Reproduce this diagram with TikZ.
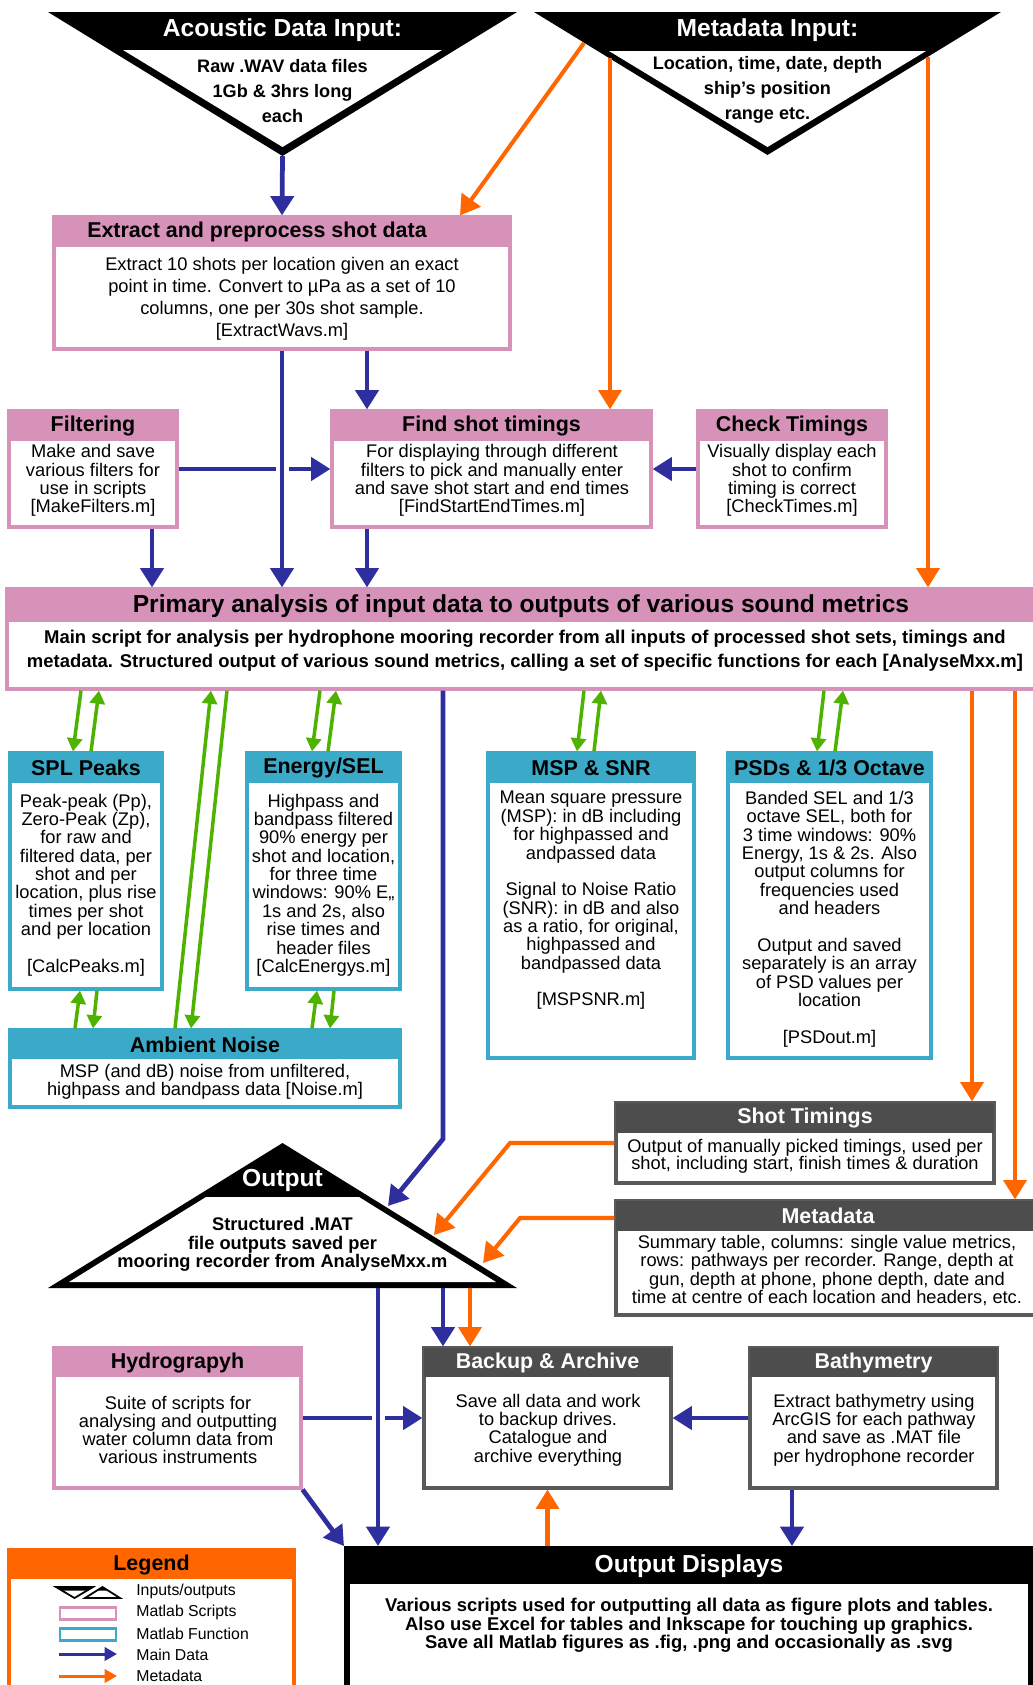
\documentclass[tikz,border=0pt]{standalone}
\usepackage{fontspec}
\setmainfont{Liberation Sans}
\usetikzlibrary{fit}
\usetikzlibrary{arrows.meta}
\definecolor{scriptpink}{RGB}{214,146,184}
\definecolor{funccyan}{RGB}{58,170,200}
\definecolor{headgrey}{RGB}{77,77,77}
\definecolor{boxgrey}{RGB}{90,90,90}
\definecolor{mainblue}{RGB}{46,46,158}
\definecolor{metaorange}{RGB}{255,102,0}
\definecolor{linkgreen}{RGB}{77,179,0}
\newcommand{\boxtitle}{\fontsize{12.2}{14}\selectfont\bfseries}
\newcommand{\tritle}{\fontsize{14}{16}\selectfont\bfseries}
\newcommand{\boxbody}[1]{\fontsize{10.4}{#1}\selectfont\lineskiplimit=-8pt}
\tikzstyle{scriptbox}=[draw=scriptpink, line width=1.8pt, fill=white, inner sep=0]
\tikzstyle{scripthead}=[fill=scriptpink, inner sep=0]
\tikzstyle{funcbox}=[draw=funccyan, line width=1.8pt, fill=white, inner sep=0]
\tikzstyle{funchead}=[fill=funccyan, inner sep=0]
\tikzstyle{outbox}=[draw=boxgrey, line width=1.8pt, fill=white, inner sep=0]
\tikzstyle{outhead}=[fill=headgrey, inner sep=0]
\tikzstyle{dispbox}=[draw=black, line width=3.4pt, fill=white, inner sep=0]
\tikzstyle{disphead}=[fill=black, inner sep=0]
\tikzstyle{headtext}=[inner sep=0, font=\boxtitle]
\tikzstyle{bodytext}=[align=center, inner sep=0, font=\boxbody{10.45}]
\tikzstyle{mainflow}=[draw=mainblue, line width=2.7pt, -{Triangle[length=11pt, width=13pt]}]
\tikzstyle{metaflow}=[draw=metaorange, line width=2.3pt, -{Triangle[length=11pt, width=13pt]}]
\tikzstyle{linkflow}=[draw=linkgreen, line width=2pt, -{Triangle[length=7.5pt, width=8.5pt]}]
\begin{document}
\begin{tikzpicture}[x=0.02cm, y=-0.02cm]
\useasboundingbox (0,0) rectangle (1033,1685);
\clip (0,0) rectangle (1033,1685);

% input triangles
\fill (48,12) -- (517,12) -- (282.5,156) -- cycle;
\fill[white] (123,50) -- (442,50) -- (282.5,147) -- cycle;
\node[text=white, font=\tritle] (acoustic-title) at (282.5,30) {Acoustic Data Input:};
\node[bodytext, font=\fontsize{10.3}{14.2}\selectfont\bfseries] (acoustic-text) at (282.5,91) {Raw .WAV data files\\1Gb \& 3hrs long\\each};
\coordinate (acoustic) at (282.5,156);

\fill (534,12) -- (1001,12) -- (767.5,155) -- cycle;
\fill[white] (609,51) -- (926,51) -- (767.5,147) -- cycle;
\node[text=white, font=\tritle] (metain-title) at (767.5,30) {Metadata Input:};
\node[bodytext, font=\fontsize{10.3}{14.2}\selectfont\bfseries] (metain-text) at (767.5,90) {Location, time, date, depth\\ship's position\\range etc.};
\coordinate (meta-a) at (584,43);
\coordinate (meta-b) at (610,58);
\coordinate (meta-c) at (928,57);

% scripts
\node[scriptbox, fit={(54,217) (510,349)}] (extract) {};
\node[scripthead, fit={(54,217) (510,247)}] (extract-head) {};
\node[headtext] (extract-title) at (257,232) {Extract and preprocess shot data};
\node[bodytext, font=\boxbody{12.5}] (extract-text) at (282,299) {Extract 10 shots per location given an exact\\point in time. Convert to µPa as a set of 10\\columns, one per 30s shot sample.\\{}[ExtractWavs.m]};

\node[scriptbox, fit={(9,411) (177,527)}] (filtering) {};
\node[scripthead, fit={(9,411) (177,441)}] (filtering-head) {};
\node[headtext] (filtering-title) at (filtering-head) {Filtering};
\node[bodytext] (filtering-text) at (93,480.5) {Make and save\\various filters for\\use in scripts\\{}[MakeFilters.m]};

\node[scriptbox, fit={(332,411) (651,527)}] (find) {};
\node[scripthead, fit={(332,411) (651,441)}] (find-head) {};
\node[headtext] (find-title) at (find-head) {Find shot timings};
\node[bodytext] (find-text) at (492,480.5) {For displaying through different\\filters to pick and manually enter\\and save shot start and end times\\{}[FindStartEndTimes.m]};

\node[scriptbox, fit={(698,411) (886,527)}] (check) {};
\node[scripthead, fit={(698,411) (886,441)}] (check-head) {};
\node[headtext] (check-title) at (check-head) {Check Timings};
\node[bodytext] (check-text) at (792,480.5) {Visually display each\\shot to confirm\\timing is correct\\{}[CheckTimes.m]};

\node[scriptbox, fit={(7,589) (1043,689)}] (primary) {};
\node[scripthead, fit={(7,589) (1043,622)}] (primary-head) {};
\node[headtext, font=\tritle] (primary-title) at (521,606) {Primary analysis of input data to outputs of various sound metrics};
\node[bodytext, font=\fontsize{10.5}{13.6}\selectfont\bfseries] (primary-text) at (525,651) {Main script for analysis per hydrophone mooring recorder from all inputs of processed shot sets, timings and\\metadata. Structured output of various sound metrics, calling a set of specific functions for each [AnalyseMxx.m]};

% functions
\node[funcbox, fit={(10,753) (162,989)}] (spl) {};
\node[funchead, fit={(10,753) (162,783)}] (spl-head) {};
\node[headtext] (spl-title) at (spl-head) {SPL Peaks};
\node[bodytext] (spl-text) at (86,885) {Peak-peak (Pp),\\Zero-Peak (Zp),\\for raw and\\filtered data, per\\shot and per\\location, plus rise\\times per shot\\and per location\\[10.45pt]{}[CalcPeaks.m]};

\node[funcbox, fit={(247,753) (400,989)}] (energy) {};
\node[funchead, fit={(247,753) (400,783)}] (energy-head) {};
\node[headtext] (energy-title) at (energy-head) {Energy/SEL};
\node[bodytext] (energy-text) at (323.5,885) {Highpass and\\bandpass filtered\\90\% energy per\\shot and location,\\for three time\\windows: 90\% E,,\\1s and 2s, also\\rise times and\\header files\\{}[CalcEnergys.m]};

\node[funcbox, fit={(488,753) (694,1058)}] (msp) {};
\node[funchead, fit={(488,753) (694,783)}] (msp-head) {};
\node[headtext] (msp-title) at (msp-head) {MSP \& SNR};
\node[bodytext] (msp-text) at (591,900.5) {Mean square pressure\\(MSP): in dB including\\for highpassed and\\andpassed data\\[10.45pt]Signal to Noise Ratio\\(SNR): in dB and also\\as a ratio, for original,\\highpassed and\\bandpassed data\\[10.45pt]{}[MSPSNR.m]};

\node[funcbox, fit={(728,753) (931,1058)}] (psd) {};
\node[funchead, fit={(728,753) (931,783)}] (psd-head) {};
\node[headtext] (psd-title) at (psd-head) {PSDs \& 1/3 Octave};
\node[bodytext] (psd-text) at (829.5,919) {Banded SEL and 1/3\\octave SEL, both for\\3 time windows: 90\%\\Energy, 1s \& 2s. Also\\output columns for\\frequencies used\\and headers\\[10.45pt]Output and saved\\separately is an array\\of PSD values per\\location\\[10.45pt]{}[PSDout.m]};

\node[funcbox, fit={(10,1030) (400,1107)}] (ambient) {};
\node[funchead, fit={(10,1030) (400,1059)}] (ambient-head) {};
\node[headtext] (ambient-title) at (ambient-head) {Ambient Noise};
\node[bodytext] (ambient-text) at (205,1081.5) {MSP (and dB) noise from unfiltered,\\highpass and bandpass data [Noise.m]};

% output triangle
\fill (282.5,1143) -- (517,1288) -- (48,1288) -- cycle;
\fill[white] (206,1197) -- (359,1197) -- (496,1282) -- (69,1282) -- cycle;
\node[text=white, font=\tritle] (output-title) at (282.5,1180) {Output};
\node[bodytext, font=\fontsize{10.4}{10.5}\selectfont\bfseries] (output-text) at (282.5,1244.5) {Structured .MAT\\file outputs saved per\\mooring recorder from AnalyseMxx.m};
\coordinate (output) at (282.5,1288);
\coordinate (out-blue) at (388,1206);
\coordinate (out-shot) at (434,1235);
\coordinate (out-meta) at (483,1263);

% outputs
\node[outbox, fit={(616,1103) (994,1183)}] (shots) {};
\node[outhead, fit={(616,1103) (994,1133)}] (shots-head) {};
\node[headtext, text=white] (shots-title) at (shots-head) {Shot Timings};
\node[bodytext, font=\boxbody{9.8}] (shots-text) at (805,1156.5) {Output of manually picked timings, used per\\shot, including start, finish times \& duration};

\node[outbox, fit={(616,1201) (1040,1315)}] (metadata) {};
\node[outhead, fit={(616,1201) (1040,1231)}] (metadata-head) {};
\node[headtext, text=white] (metadata-title) at (metadata-head) {Metadata};
\node[bodytext, font=\boxbody{10.4}] (metadata-text) at (827,1270.5) {Summary table, columns: single value metrics,\\rows: pathways per recorder. Range, depth at\\gun, depth at phone, phone depth, date and\\time at centre of each location and headers, etc.};

\node[scriptbox, fit={(54,1348) (301,1488)}] (hydro) {};
\node[scripthead, fit={(54,1348) (301,1377)}] (hydro-head) {};
\node[headtext] (hydro-title) at (hydro-head) {Hydrograpyh};
\node[bodytext, font=\boxbody{10.4}] (hydro-text) at (178,1430) {Suite of scripts for\\analysing and outputting\\water column data from\\various instruments};

\node[outbox, fit={(424,1348) (671,1488)}] (backup) {};
\node[outhead, fit={(424,1348) (671,1377)}] (backup-head) {};
\node[headtext, text=white] (backup-title) at (backup-head) {Backup \& Archive};
\node[bodytext, font=\boxbody{10.4}] (backup-text) at (548,1430) {Save all data and work\\to backup drives.\\Catalogue and\\archive everything};

\node[outbox, fit={(750,1348) (997,1488)}] (bathy) {};
\node[outhead, fit={(750,1348) (997,1377)}] (bathy-head) {};
\node[headtext, text=white] (bathy-title) at (bathy-head) {Bathymetry};
\node[bodytext, font=\boxbody{10.4}] (bathy-text) at (874,1430) {Extract bathymetry using\\ArcGIS for each pathway\\and save as .MAT file\\per hydrophone recorder};

\node[dispbox, fit={(347,1549) (1031,1710)}] (display) {};
\node[disphead, fit={(347,1549) (1031,1584)}] (display-head) {};
\node[headtext, text=white, font=\tritle] (display-title) at (display-head) {Output Displays};
\node[bodytext, font=\fontsize{10.5}{10.5}\selectfont\bfseries] (display-text) at (689,1625.5) {Various scripts used for outputting all data as figure plots and tables.\\Also use Excel for tables and Inkscape for touching up graphics.\\Save all Matlab figures as .fig, .png and occasionally as .svg};

% main data
\draw[mainflow] (acoustic) -- (extract.north);
\draw[mainflow] (extract.south) -- (extract.south |- primary.north);
\draw[mainflow] (367,0 |- extract.south) -- (367,0 |- find.north);
\draw[mainflow] (filtering.east) -- (276,0 |- filtering.east) (289,0 |- filtering.east) -- (find.west);
\draw[mainflow] (152,0 |- filtering.south) -- (152,0 |- primary.north);
\draw[mainflow] (367,0 |- find.south) -- (367,0 |- primary.north);
\draw[mainflow] (check.west) -- (find.east);
\draw[mainflow] (443,0 |- primary.south) -- (443,1139) -- (out-blue);
\draw[mainflow] (378,0 |- output) -- (378,0 |- display.north);
\draw[mainflow] (443,0 |- output) -- (443,0 |- backup.north);
\draw[mainflow] (hydro.east) -- (372,0 |- hydro.east) (385,0 |- hydro.east) -- (backup.west);
\draw[mainflow] (hydro.south east) -- (display.north west);
\draw[mainflow] (bathy.west) -- (backup.east);
\draw[mainflow] (792,0 |- bathy.south) -- (792,0 |- display.north);

% metadata
\draw[metaflow] (meta-a) -- (460,0 |- extract.north);
\draw[metaflow] (meta-b) -- (meta-b |- find.north);
\draw[metaflow] (meta-c) -- (meta-c |- primary.north);
\draw[metaflow] (972,0 |- primary.south) -- (972,0 |- shots.north);
\draw[metaflow] (1015,0 |- primary.south) -- (1015,0 |- metadata.north);
\draw[metaflow] (shots.west) -- (510,0 |- shots.west) -- (out-shot);
\draw[metaflow] (metadata.west |- 0,1218) -- (520,1218) -- (out-meta);
\draw[metaflow] (470,0 |- output) -- (470,0 |- backup.north);
\draw[metaflow] (display.north -| backup.south) -- (backup.south);

% functions to and fro
\draw[linkflow] (81,0 |- primary.south) -- (73,0 |- spl.north);
\draw[linkflow] (91,0 |- spl.north) -- (99,0 |- primary.south);
\draw[linkflow] (320,0 |- primary.south) -- (312,0 |- energy.north);
\draw[linkflow] (328,0 |- energy.north) -- (336,0 |- primary.south);
\draw[linkflow] (175,0 |- ambient.north) -- (211,0 |- primary.south);
\draw[linkflow] (227,0 |- primary.south) -- (191,0 |- ambient.north);
\draw[linkflow] (75,0 |- ambient.north) -- (80,0 |- spl.south);
\draw[linkflow] (97,0 |- spl.south) -- (93,0 |- ambient.north);
\draw[linkflow] (312,0 |- ambient.north) -- (317,0 |- energy.south);
\draw[linkflow] (334,0 |- energy.south) -- (330,0 |- ambient.north);
\draw[linkflow] (584,0 |- primary.south) -- (577,0 |- msp.north);
\draw[linkflow] (594,0 |- msp.north) -- (601,0 |- primary.south);
\draw[linkflow] (824,0 |- primary.south) -- (817,0 |- psd.north);
\draw[linkflow] (835,0 |- psd.north) -- (843,0 |- primary.south);

% legend
\node[draw=metaorange, line width=2.7pt, fill=white, inner sep=0, fit={(9,1550) (294,1710)}] (legend) {};
\node[fill=metaorange, inner sep=0, fit={(9,1550) (294,1579)}] (legend-head) {};
\node[headtext] (legend-title) at (legend-head) {Legend};
\draw[line width=1pt, fill=white] (56,1587) -- (93,1587) -- (74.5,1598) -- cycle;
\fill (56,1587) -- (93,1587) -- (88,1590.5) -- (61,1590.5) -- cycle;
\draw[line width=1pt, fill=white] (85,1598) -- (120,1598) -- (102.5,1587) -- cycle;
\fill (102.5,1587) -- (108,1590.5) -- (97,1590.5) -- cycle;
\draw[scriptpink, line width=1.7pt] (60,1607) rectangle (116,1619);
\draw[funccyan, line width=1.7pt] (60,1628) rectangle (116,1640);
\coordinate (leg-main-a) at (59,1654);
\coordinate (leg-main-b) at (117,1654);
\coordinate (leg-meta-a) at (59,1676);
\coordinate (leg-meta-b) at (117,1676);
\draw[mainflow, line width=1.7pt, -{Triangle[length=7pt, width=7.5pt]}] (leg-main-a) -- (leg-main-b);
\draw[metaflow, line width=1.7pt, -{Triangle[length=7pt, width=7.5pt]}] (leg-meta-a) -- (leg-meta-b);
\node[anchor=west, inner sep=0, font=\fontsize{9}{10}\selectfont] (leg-io) at (136,1591) {Inputs/outputs};
\node[anchor=west, inner sep=0, font=\fontsize{9}{10}\selectfont] (leg-script) at (136,1612) {Matlab Scripts};
\node[anchor=west, inner sep=0, font=\fontsize{9}{10}\selectfont] (leg-func) at (136,1634) {Matlab Function};
\node[anchor=west, inner sep=0, font=\fontsize{9}{10}\selectfont] (leg-main) at (136,1655) {Main Data};
\node[anchor=west, inner sep=0, font=\fontsize{9}{10}\selectfont] (leg-meta) at (136,1676) {Metadata};
\end{tikzpicture}
\end{document}
